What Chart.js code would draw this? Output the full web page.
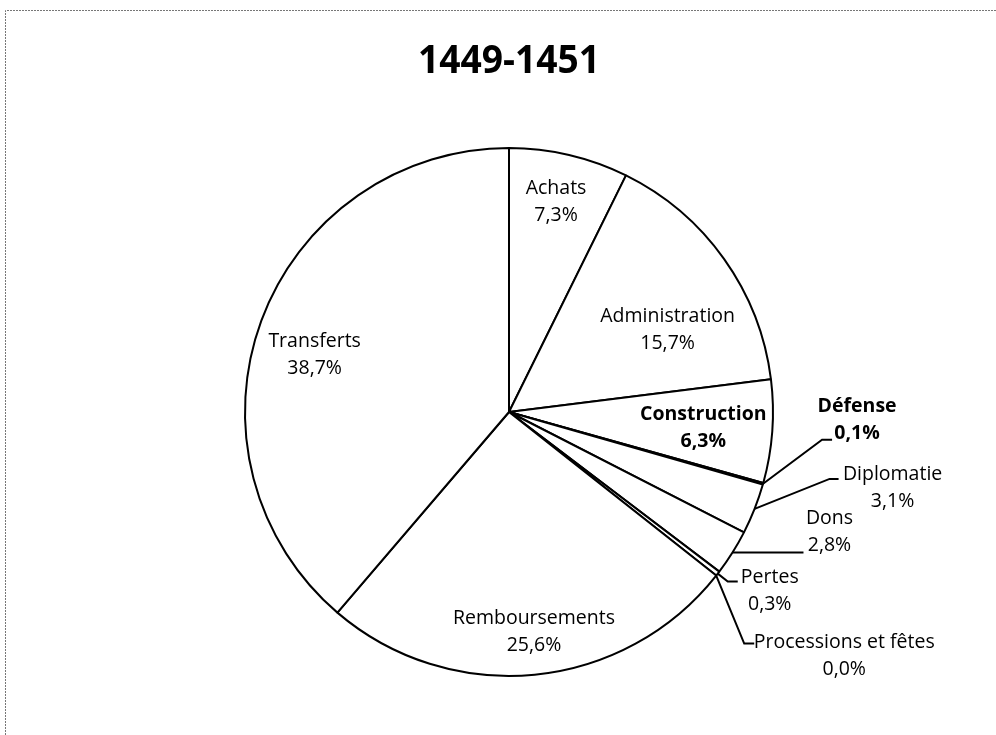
<!DOCTYPE html>
<html>
<head>
<meta charset="utf-8">
<script src="https://cdn.jsdelivr.net/npm/chart.js@4"></script>
<style>
  body { margin: 0; background: #fff; }
</style>
</head>
<body>
<canvas id="pie-chart" width="996" height="735"></canvas>
<script>
const chartTitle = "1449-1451";
const categories = ["Achats", "Administration", "Construction", "Défense", "Diplomatie",
  "Dons", "Pertes", "Processions et fêtes", "Remboursements", "Transferts"];
const shares = [7.3, 15.7, 6.3, 0.1, 3.1, 2.8, 0.3, 0.0, 25.6, 38.7];
const boldLabels = ["Construction", "Défense"];

// label placement: inside labels sit at 0.7 of the radius on the slice mid angle, plus a nudge
const insideNudge = {
  "Achats": [5, -31], "Administration": [8, 25], "Construction": [10, 2],
  "Remboursements": [7, 36], "Transferts": [-21, 6]
};
// outside labels: elbow offset from the rim, horizontal leg, text offset from leg end
const outsideLeader = {
  "Défense": [59, -44, 10, 25, -33],
  "Diplomatie": [75, -30, 9, 54, -4],
  "Dons": [0, 0, 71, 26, -34],
  "Pertes": [10, 8, 10, 32, -4],
  "Processions et fêtes": [28, 68, 10, 90, -1]
};

const fmt = (v) => v.toFixed(1).replace(".", ",") + "%";
const FONT = '"Open Sans", "DejaVu Sans", sans-serif';

const labelPlugin = {
  id: "excelLabels",
  beforeDraw(chart) {
    const ctx = chart.ctx;
    ctx.save();
    ctx.strokeStyle = "#777";
    ctx.lineWidth = 1;
    ctx.setLineDash([2, 1]);
    ctx.beginPath();
    ctx.moveTo(5.5, 735);
    ctx.lineTo(5.5, 10.5);
    ctx.lineTo(996, 10.5);
    ctx.stroke();
    ctx.setLineDash([]);
    // title, squeezed a little to get closer to the narrow original face
    ctx.fillStyle = "#000";
    ctx.font = "bold 40px " + FONT;
    ctx.textAlign = "center";
    ctx.textBaseline = "middle";
    ctx.translate(509, 62);
    ctx.scale(0.93, 1);
    ctx.fillText(chartTitle, 0, 0);
    ctx.restore();
  },
  afterDatasetsDraw(chart) {
    const ctx = chart.ctx;
    const meta = chart.getDatasetMeta(0);
    ctx.save();
    ctx.fillStyle = "#000";
    ctx.strokeStyle = "#000";
    ctx.lineWidth = 2;
    ctx.textAlign = "center";
    ctx.textBaseline = "middle";
    meta.data.forEach((arc, i) => {
      const name = categories[i];
      const mid = (arc.startAngle + arc.endAngle) / 2;
      const weight = boldLabels.includes(name) ? "bold " : "";
      ctx.font = weight + "19.5px " + FONT;
      let tx, ty;
      if (insideNudge[name]) {
        const r = arc.outerRadius * 0.7;
        tx = arc.x + Math.cos(mid) * r + insideNudge[name][0];
        ty = arc.y + Math.sin(mid) * r + insideNudge[name][1] - 13;
      } else {
        const o = outsideLeader[name];
        const ex = arc.x + Math.cos(mid) * arc.outerRadius;
        const ey = arc.y + Math.sin(mid) * arc.outerRadius;
        const bx = ex + o[0], by = ey + o[1];
        const lx = bx + o[2];
        ctx.beginPath();
        ctx.moveTo(ex, ey);
        ctx.lineTo(bx, by);
        ctx.lineTo(lx, by);
        ctx.stroke();
        tx = lx + o[3];
        ty = by + o[4];
      }
      ctx.fillText(name, tx, ty);
      ctx.fillText(fmt(shares[i]), tx, ty + 27);
    });
    ctx.restore();
  }
};

new Chart(document.getElementById("pie-chart"), {
  type: "pie",
  data: {
    labels: categories,
    datasets: [{
      data: shares,
      backgroundColor: "#ffffff",
      borderColor: "#000000",
      borderWidth: 2,
      hoverOffset: 0
    }]
  },
  options: {
    responsive: false,
    animation: false,
    events: [],
    layout: { padding: { left: 244, top: 147, right: 222, bottom: 58 } },
    plugins: {
      legend: { display: false },
      title: { display: false },
      tooltip: { enabled: false }
    }
  },
  plugins: [labelPlugin]
});
</script>
</body>
</html>
